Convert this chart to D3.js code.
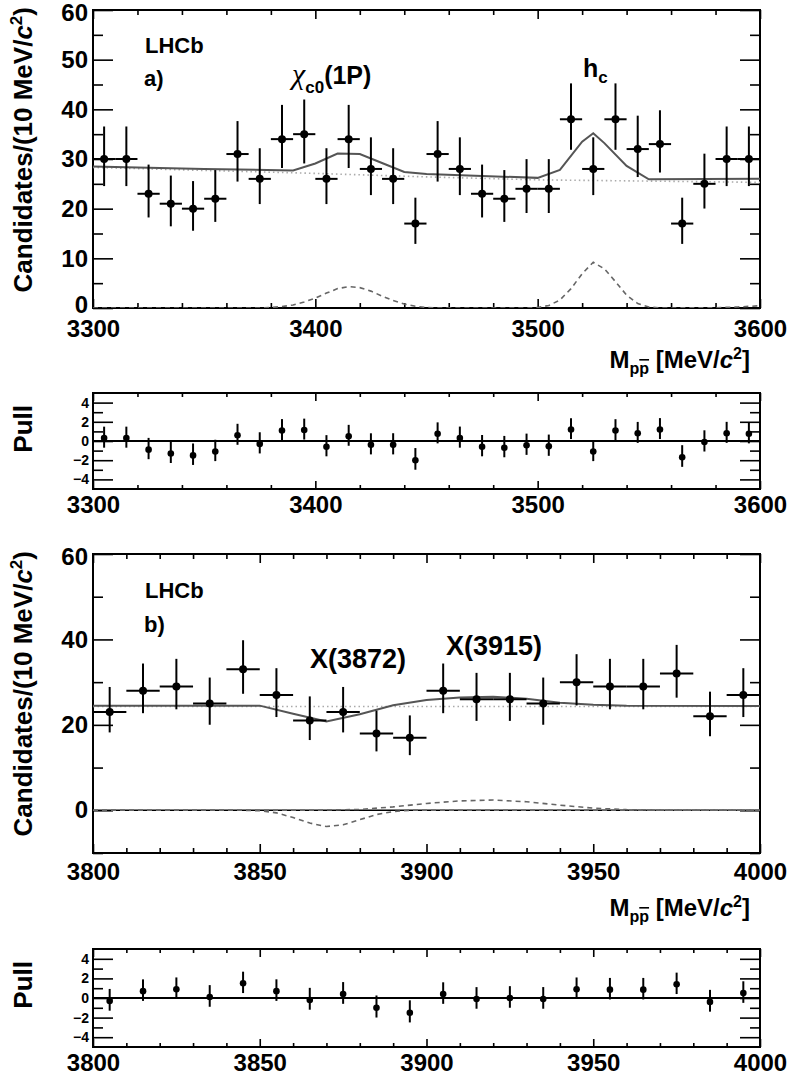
<!DOCTYPE html>
<html><head><meta charset="utf-8">
<script src="https://cdn.jsdelivr.net/npm/d3@7"></script>
<style>
html,body{margin:0;padding:0;background:#fff;}
svg{display:block;}
text{font-family:"Liberation Sans",Arial,Helvetica,sans-serif;font-weight:bold;fill:#000;}
</style></head>
<body>
<svg id="chart" width="789" height="1075"></svg>
<script>
// ---------------- DATA ----------------
// Panel a) bins (centres, MeV/c^2)
const binsA = [3305,3315,3325,3335,3345,3355,3365,3375,3385,3395,3405,3415,3425,3435,3445,3455,3465,3475,3485,3495,3505,3515,3525,3535,3545,3555,3565,3575,3585,3595];
const countsA = [30,30,23,21,20,22,31,26,34,35,26,34,28,26,17,31,28,23,22,24,24,38,28,38,32,33,17,25,30,30];
const pullA = [0.3,0.3,-0.9,-1.3,-1.5,-1.1,0.6,-0.3,1.1,1.15,-0.6,0.5,-0.4,-0.4,-2.0,0.75,0.3,-0.6,-0.7,-0.45,-0.55,1.2,-1.1,1.1,0.8,1.2,-1.7,-0.1,0.8,0.75];
// total fit (solid)
const fitAX = [3300,3350,3390,3400,3410,3420,3430,3440,3450,3500,3510,3520,3525,3530,3540,3550,3600];
const fitAY = [28.5,28.0,27.7,29.1,31.1,31.0,29.2,27.4,27.0,26.2,27.8,33.5,35.2,33.2,28.6,25.9,26.0];
// background (dotted)
const bkgAX = [3300,3400,3450,3500,3600];
const bkgAY = [28.3,27.1,26.4,25.8,25.3];
// signal components (dashed)
const sigAX = [3300,3375,3380,3385,3390,3395,3400,3405,3410,3415,3420,3425,3430,3435,3440,3445,3450,3455,3495,3500,3505,3510,3515,3520,3525,3530,3535,3540,3545,3550,3555,3580,3590,3600];
const sigAY = [0,0,0.1,0.3,0.6,1.2,2.0,3.0,3.9,4.3,4.1,3.4,2.4,1.5,0.8,0.35,0.1,0,0,0.1,0.5,1.6,3.9,6.9,9.2,7.9,5.3,2.6,0.9,0.2,0,0.05,0.2,0.45];

// Panel b)
const binsB = [3805,3815,3825,3835,3845,3855,3865,3875,3885,3895,3905,3915,3925,3935,3945,3955,3965,3975,3985,3995];
const countsB = [23,28,29,25,33,27,21,23,18,17,28,26,26,25,30,29,29,32,22,27];
const pullB = [-0.3,0.7,0.9,0.1,1.5,0.7,-0.2,0.4,-1.0,-1.5,0.4,-0.1,0.0,-0.1,0.9,0.85,0.85,1.4,-0.4,0.5];
const fitBX = [3800,3850,3860,3870,3880,3890,3900,3910,3920,3930,3940,3950,3960,4000];
const fitBY = [24.5,24.5,22.6,20.8,22.5,24.6,25.8,26.4,26.6,26.1,25.2,24.7,24.5,24.4];
const bkgBX = [3800,4000];
const bkgBY = [24.3,24.3];
const sigB1X = [3800,3845,3850,3855,3860,3865,3870,3875,3880,3885,3890,3895,4000];
const sigB1Y = [0,0,-0.1,-0.6,-1.7,-3.0,-3.8,-3.4,-2.2,-1.0,-0.3,0,0];
const sigB2X = [3800,3865,3870,3880,3890,3900,3910,3920,3930,3940,3950,3960,3970,4000];
const sigB2Y = [0,0,0.05,0.2,0.8,1.6,2.2,2.4,2.0,1.2,0.5,0.15,0,0];

// tick labels
const xMajA = [3300,3400,3500,3600];
const xMajB = [3800,3850,3900,3950,4000];
const yMajA = [0,10,20,30,40,50,60];
const yMajB = [0,20,40,60];
const yMajP = [-4,-2,0,2,4];

// ---------------- DRAW ----------------
const svg = d3.select("#chart");
const X0 = 93, X1 = 760;
const halfBin = 5;

// Poisson (Gehrels) 1-sigma errors from counts
const errHi = n => Math.sqrt(n + 0.75) + 1;
const errLo = n => Math.sqrt(n - 0.25);

function frame(g, x, y, cfg) {
  const xAxisB = d3.axisBottom(x).tickValues(cfg.xMaj).tickSizeInner(-cfg.xMajLen).tickSizeOuter(0).tickPadding(cfg.xPad).tickFormat(d3.format("d"));
  const xAxisBm = d3.axisBottom(x).tickValues(cfg.xMin).tickSizeInner(-cfg.xMinLen).tickSizeOuter(0).tickFormat("");
  const xAxisT = d3.axisTop(x).tickValues(cfg.xMaj).tickSizeInner(-cfg.xMajLen).tickSizeOuter(0).tickFormat("");
  const xAxisTm = d3.axisTop(x).tickValues(cfg.xMin).tickSizeInner(-cfg.xMinLen).tickSizeOuter(0).tickFormat("");
  const yAxisL = d3.axisLeft(y).tickValues(cfg.yMaj).tickSizeInner(-20).tickSizeOuter(0).tickPadding(cfg.yPad).tickFormat(d3.format("d"));
  const yAxisLm = d3.axisLeft(y).tickValues(cfg.yMin).tickSizeInner(-10).tickSizeOuter(0).tickFormat("");
  const yAxisR = d3.axisRight(y).tickValues(cfg.yMaj).tickSizeInner(-20).tickSizeOuter(0).tickFormat("");
  const yAxisRm = d3.axisRight(y).tickValues(cfg.yMin).tickSizeInner(-10).tickSizeOuter(0).tickFormat("");
  const by = y.range()[0], ty = y.range()[1];
  const list = [
    [xAxisB, `translate(0,${by})`, "xl"], [xAxisBm, `translate(0,${by})`, ""],
    [xAxisT, `translate(0,${ty})`, ""], [xAxisTm, `translate(0,${ty})`, ""],
    [yAxisL, `translate(${X0},0)`, "yl"], [yAxisLm, `translate(${X0},0)`, ""],
    [yAxisR, `translate(${X1},0)`, ""], [yAxisRm, `translate(${X1},0)`, ""]
  ];
  list.forEach(([ax, tr, cls]) => {
    const a = g.append("g").attr("transform", tr).attr("class", cls).call(ax);
    a.select(".domain").remove();
    a.selectAll(".tick line").attr("stroke", "#000").attr("stroke-width", 1.6);
    a.selectAll("text").attr("fill", "#000");
  });
  g.selectAll(".tick text").attr("font-family", '"Liberation Sans",Arial,sans-serif').attr("font-weight", "bold");
  return g;
}

function mainPanel(cfg) {
  const x = d3.scaleLinear().domain(cfg.xdom).range([X0, X1]);
  const y = d3.scaleLinear().domain(cfg.ydom).range([cfg.yb, cfg.yt]);
  const g = svg.append("g");
  const clipId = "clip" + cfg.id;
  svg.append("clipPath").attr("id", clipId).append("rect")
    .attr("x", X0).attr("y", cfg.yt).attr("width", X1 - X0).attr("height", cfg.yb - cfg.yt);

  frame(g, x, y, cfg);
  g.selectAll(".tick text").attr("font-size", 24);
  // nudge extreme y labels like the reference (top one down, bottom-edge zero up)
  g.selectAll("g.yl .tick text").attr("dy", d => d === cfg.ydom[1] ? "0.42em" : (d === cfg.ydom[0] ? "0.2em" : "0.32em"));
  g.append("rect").attr("x", X0).attr("y", cfg.yt).attr("width", X1 - X0).attr("height", cfg.yb - cfg.yt)
    .attr("fill", "none").attr("stroke", "#000").attr("stroke-width", 2);

  const cg = g.append("g").attr("clip-path", `url(#${clipId})`);
  if (cfg.zeroLine) {
    cg.append("line").attr("x1", X0).attr("x2", X1).attr("y1", y(0)).attr("y2", y(0))
      .attr("stroke", "#000").attr("stroke-width", 1.6);
  }
  const line = d3.line().x(d => x(d[0])).y(d => y(d[1]));
  cfg.sigs.forEach(([sx, sy]) => {
    cg.append("path").datum(sx.map((v, i) => [v, sy[i]])).attr("d", line)
      .attr("fill", "none").attr("stroke", "#666").attr("stroke-width", 1.6).attr("stroke-dasharray", "5,4");
  });
  cg.append("path").datum(cfg.bkgX.map((v, i) => [v, cfg.bkgY[i]])).attr("d", line)
    .attr("fill", "none").attr("stroke", "#aaa").attr("stroke-width", 1.6).attr("stroke-dasharray", "1.5,3");
  cg.append("path").datum(cfg.fitX.map((v, i) => [v, cfg.fitY[i]])).attr("d", line)
    .attr("fill", "none").attr("stroke", "#555").attr("stroke-width", 2);

  const pts = g.append("g");
  cfg.bins.forEach((b, i) => {
    const n = cfg.counts[i];
    pts.append("line").attr("x1", x(b)).attr("x2", x(b)).attr("y1", y(n + errHi(n))).attr("y2", y(n - errLo(n)))
      .attr("stroke", "#000").attr("stroke-width", 2);
    pts.append("line").attr("x1", x(b - halfBin)).attr("x2", x(b + halfBin)).attr("y1", y(n)).attr("y2", y(n))
      .attr("stroke", "#000").attr("stroke-width", 2);
    pts.append("circle").attr("cx", x(b)).attr("cy", y(n)).attr("r", 4).attr("fill", "#000");
  });

  // y title
  g.append("text").attr("transform", `translate(32,${cfg.yt - 3}) rotate(-90)`)
    .attr("text-anchor", "end").attr("font-size", 26)
    .call(t => {
      t.append("tspan").text("Candidates/(10 MeV/");
      t.append("tspan").attr("font-style", "italic").text("c");
      t.append("tspan").attr("font-size", 17).attr("dy", -10).text("2");
      t.append("tspan").attr("dy", 10).text(")");
    });
  // x title
  g.append("text").attr("x", 750).attr("y", cfg.titleY).attr("text-anchor", "end").attr("font-size", 24)
    .call(t => {
      t.append("tspan").text("M");
      t.append("tspan").attr("font-size", 16).attr("dy", 6).text("p");
      t.append("tspan").attr("font-size", 16).attr("style", "text-decoration:overline").text("p");
      t.append("tspan").attr("dy", -6).text(" [MeV/");
      t.append("tspan").attr("font-style", "italic").text("c");
      t.append("tspan").attr("font-size", 16).attr("dy", -9).text("2");
      t.append("tspan").attr("dy", 9).text("]");
    });
  // LHCb
  g.append("text").attr("x", 145).attr("y", cfg.lhcbY).attr("font-size", 22).text("LHCb");
  g.append("text").attr("x", 144).attr("y", cfg.tagY).attr("font-size", 22).text(cfg.tag);
  return {g, x, y};
}

function pullPanel(cfg) {
  const x = d3.scaleLinear().domain(cfg.xdom).range([X0, X1]);
  const y = d3.scaleLinear().domain([-5, 5]).range([cfg.yb, cfg.yt]);
  const g = svg.append("g");
  frame(g, x, y, cfg);
  g.selectAll("g.yl .tick text").attr("font-size", 14);
  g.selectAll("g.xl .tick text").attr("font-size", 24);
  g.append("rect").attr("x", X0).attr("y", cfg.yt).attr("width", X1 - X0).attr("height", cfg.yb - cfg.yt)
    .attr("fill", "none").attr("stroke", "#000").attr("stroke-width", 2);
  g.append("line").attr("x1", X0).attr("x2", X1).attr("y1", y(0)).attr("y2", y(0))
    .attr("stroke", "#000").attr("stroke-width", 2);
  cfg.bins.forEach((b, i) => {
    const n = cfg.counts[i], p = cfg.pulls[i], s = Math.sqrt(n);
    g.append("line").attr("x1", x(b)).attr("x2", x(b))
      .attr("y1", y(p + errHi(n) / s)).attr("y2", y(p - errLo(n) / s))
      .attr("stroke", "#000").attr("stroke-width", 2);
    g.append("circle").attr("cx", x(b)).attr("cy", y(p)).attr("r", 3.3).attr("fill", "#000");
  });
  g.append("text").attr("transform", `translate(32,${cfg.yt + 12}) rotate(-90)`)
    .attr("text-anchor", "end").attr("font-size", 26).text("Pull");
}

// minor tick lists
const minA = [3320,3340,3360,3380,3420,3440,3460,3480,3520,3540,3560,3580];
const minB = [3810,3820,3830,3840,3860,3870,3880,3890,3910,3920,3930,3940,3960,3970,3980,3990];

mainPanel({
  id: "a", xdom: [3300, 3600], ydom: [0, 60], yt: 10, yb: 308,
  xMaj: xMajA, xMin: minA, xMajLen: 9, xMinLen: 5, xPad: 12,
  yMaj: yMajA, yMin: [5,15,25,35,45,55], yPad: 5,
  bins: binsA, counts: countsA, fitX: fitAX, fitY: fitAY, bkgX: bkgAX, bkgY: bkgAY,
  sigs: [[sigAX, sigAY]], titleY: 368, lhcbY: 53, tagY: 86, tag: "a)", zeroLine: false
});
pullPanel({
  xdom: [3300, 3600], yt: 393, yb: 489,
  xMaj: xMajA, xMin: minA, xMajLen: 8, xMinLen: 4, xPad: 7,
  yMaj: yMajP, yMin: [-3,-1,1,3], yPad: 4,
  bins: binsA, counts: countsA, pulls: pullA
});
mainPanel({
  id: "b", xdom: [3800, 4000], ydom: [-10, 60], yt: 554, yb: 853,
  xMaj: xMajB, xMin: minB, xMajLen: 9, xMinLen: 5, xPad: 10,
  yMaj: yMajB, yMin: [-10,10,30,50], yPad: 5,
  bins: binsB, counts: countsB, fitX: fitBX, fitY: fitBY, bkgX: bkgBX, bkgY: bkgBY,
  sigs: [[sigB1X, sigB1Y], [sigB2X, sigB2Y]], titleY: 916, lhcbY: 598, tagY: 632, tag: "b)", zeroLine: true
});
pullPanel({
  xdom: [3800, 4000], yt: 949, yb: 1047,
  xMaj: xMajB, xMin: minB, xMajLen: 8, xMinLen: 4, xPad: 7,
  yMaj: yMajP, yMin: [-3,-1,1,3], yPad: 4,
  bins: binsB, counts: countsB, pulls: pullB
});

// peak labels
svg.append("text").attr("x", 292).attr("y", 84).attr("font-size", 25)
  .call(t => {
    t.append("tspan").attr("font-family", '"Liberation Serif","DejaVu Serif",serif').attr("font-weight", "normal").attr("font-style", "italic").attr("font-size", 30).text("χ");
    t.append("tspan").attr("font-size", 17).attr("dy", 9).text("c0");
    t.append("tspan").attr("dy", -9).text("(1P)");
  });
svg.append("text").attr("x", 583).attr("y", 77).attr("font-size", 25)
  .call(t => {
    t.append("tspan").text("h");
    t.append("tspan").attr("font-size", 17).attr("dy", 6).text("c");
  });
svg.append("text").attr("x", 310).attr("y", 668).attr("font-size", 27).text("X(3872)");
svg.append("text").attr("x", 446).attr("y", 655).attr("font-size", 27).text("X(3915)");
</script>
</body></html>
